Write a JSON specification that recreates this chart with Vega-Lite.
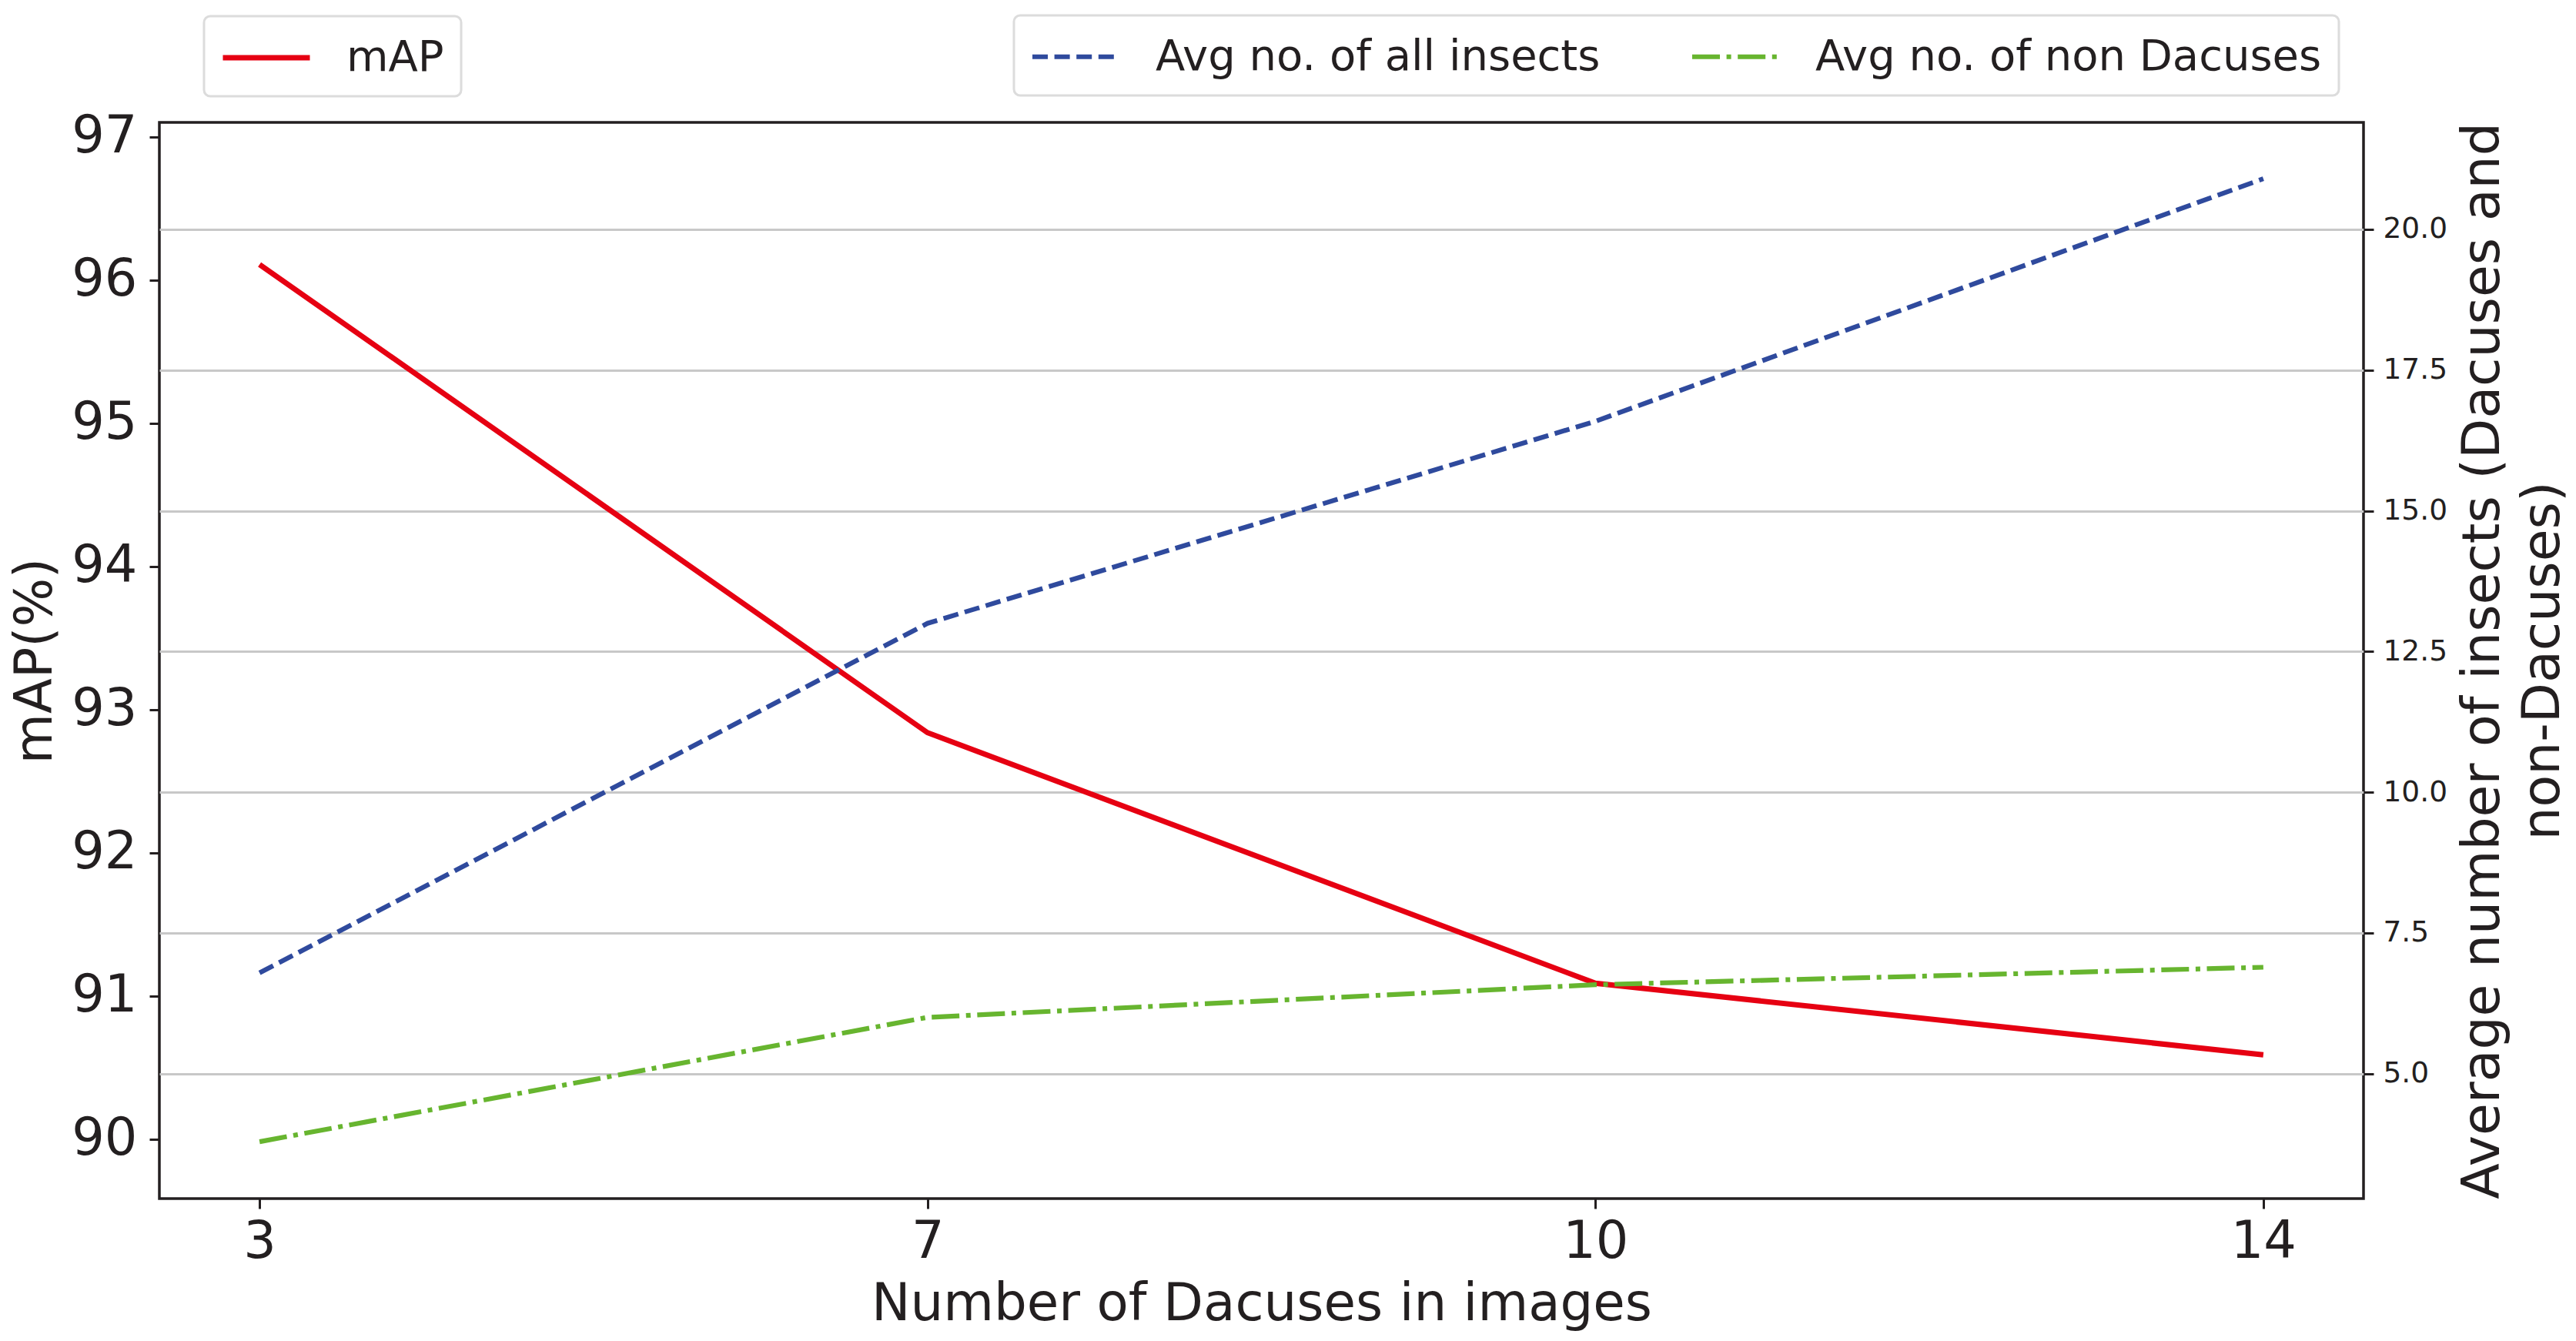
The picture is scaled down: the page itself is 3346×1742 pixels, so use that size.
{
  "$schema": "https://vega.github.io/schema/vega-lite/v6.json",
  "autosize": {"type": "none"},
  "width": 2863,
  "height": 1398,
  "padding": {"left": 207, "top": 159, "right": 276, "bottom": 185},
  "background": "white",
  "data": {
    "values": [
      {"n": 3, "series": "mAP", "value": 96.11},
      {"n": 7, "series": "mAP", "value": 92.84},
      {"n": 10, "series": "mAP", "value": 91.09},
      {"n": 14, "series": "mAP", "value": 90.59},
      {"n": 3, "series": "Avg no. of all insects", "value": 6.79},
      {"n": 7, "series": "Avg no. of all insects", "value": 13.0},
      {"n": 10, "series": "Avg no. of all insects", "value": 16.59},
      {"n": 14, "series": "Avg no. of all insects", "value": 20.9},
      {"n": 3, "series": "Avg no. of non Dacuses", "value": 3.79},
      {"n": 7, "series": "Avg no. of non Dacuses", "value": 6.0},
      {"n": 10, "series": "Avg no. of non Dacuses", "value": 6.58},
      {"n": 14, "series": "Avg no. of non Dacuses", "value": 6.89}
    ]
  },
  "encoding": {
    "x": {
      "field": "n",
      "type": "ordinal",
      "scale": {"type": "point", "padding": 0.15},
      "axis": {
        "title": "Number of Dacuses in images",
        "labelAngle": 0,
        "labelFontSize": 67,
        "labelPadding": 10,
        "titleFontSize": 67.5,
        "titleBaseline": "top",
        "titleY": 104
      }
    }
  },
  "layer": [
    {
      "transform": [{"filter": "datum.series === 'mAP'"}],
      "mark": {"type": "line", "strokeWidth": 7, "strokeCap": "butt"},
      "encoding": {
        "y": {
          "field": "value",
          "type": "quantitative",
          "scale": {"domain": [89.586, 97.102], "nice": false, "zero": false},
          "axis": {
            "orient": "left",
            "values": [90, 91, 92, 93, 94, 95, 96, 97],
            "title": "mAP(%)",
            "labelFontSize": 67,
            "labelPadding": 16,
            "titleFontSize": 67,
            "titleBaseline": "top",
            "titleAngle": 270,
            "titleX": -194,
            "titleY": 699
          }
        },
        "color": {
          "field": "series",
          "type": "nominal",
          "scale": {"domain": ["mAP"], "range": ["#e60012"]},
          "legend": {
            "orient": "none",
            "legendX": 58,
            "legendY": -138,
            "symbolStrokeWidth": 7,
            "title": null
          }
        }
      }
    },
    {
      "transform": [{"filter": "datum.series !== 'mAP'"}],
      "mark": {"type": "line", "strokeWidth": 6.2, "strokeCap": "butt"},
      "encoding": {
        "y": {
          "field": "value",
          "type": "quantitative",
          "scale": {"domain": [2.78, 21.9], "nice": false, "zero": false},
          "axis": {
            "orient": "right",
            "values": [5, 7.5, 10, 12.5, 15, 17.5, 20],
            "format": ".1f",
            "grid": true,
            "gridColor": "#c8c8c8",
            "gridWidth": 3,
            "labelFontSize": 37.5,
            "labelPadding": 12,
            "title": ["Average number of insects (Dacuses and", "non-Dacuses)"],
            "titleFontSize": 68,
            "titleLineHeight": 78,
            "titleBaseline": "top",
            "titleAngle": 270,
            "titleX": 121,
            "titleY": 699
          }
        },
        "color": {
          "field": "series",
          "type": "nominal",
          "scale": {
            "domain": ["Avg no. of all insects", "Avg no. of non Dacuses"],
            "range": ["#2f4a9d", "#67b52f"]
          },
          "legend": {
            "orient": "none",
            "legendX": 1110,
            "legendY": -139,
            "direction": "horizontal",
            "columnPadding": 106,
            "symbolStrokeWidth": 6.2,
            "title": null
          }
        },
        "strokeDash": {
          "field": "series",
          "type": "nominal",
          "scale": {
            "domain": ["Avg no. of all insects", "Avg no. of non Dacuses"],
            "range": [[20, 8.6], [36, 8.6, 6, 8.6]]
          },
          "legend": {
            "orient": "none",
            "legendX": 1110,
            "legendY": -139,
            "direction": "horizontal",
            "columnPadding": 106,
            "symbolStrokeWidth": 6.2,
            "title": null
          }
        }
      }
    }
  ],
  "resolve": {
    "scale": {"y": "independent", "color": "independent", "strokeDash": "independent"}
  },
  "config": {
    "font": "DejaVu Sans",
    "view": {"stroke": "#231f20", "strokeWidth": 3.5},
    "axis": {
      "domain": false,
      "grid": false,
      "tickSize": 13,
      "tickWidth": 3,
      "tickColor": "#231f20",
      "labelColor": "#231f20",
      "titleColor": "#231f20",
      "titleFontWeight": "normal",
      "labelFont": "DejaVu Sans",
      "titleFont": "DejaVu Sans"
    },
    "legend": {
      "symbolType": "M-2,0H2",
      "symbolSize": 3192,
      "symbolOffset": 27,
      "labelFontSize": 56,
      "labelColor": "#231f20",
      "labelFont": "DejaVu Sans",
      "labelLimit": 2000,
      "labelOffset": 72,
      "padding": 22,
      "strokeColor": "#dcdcdc",
      "strokeWidth": 3,
      "fillColor": "white",
      "cornerRadius": 8
    }
  }
}
